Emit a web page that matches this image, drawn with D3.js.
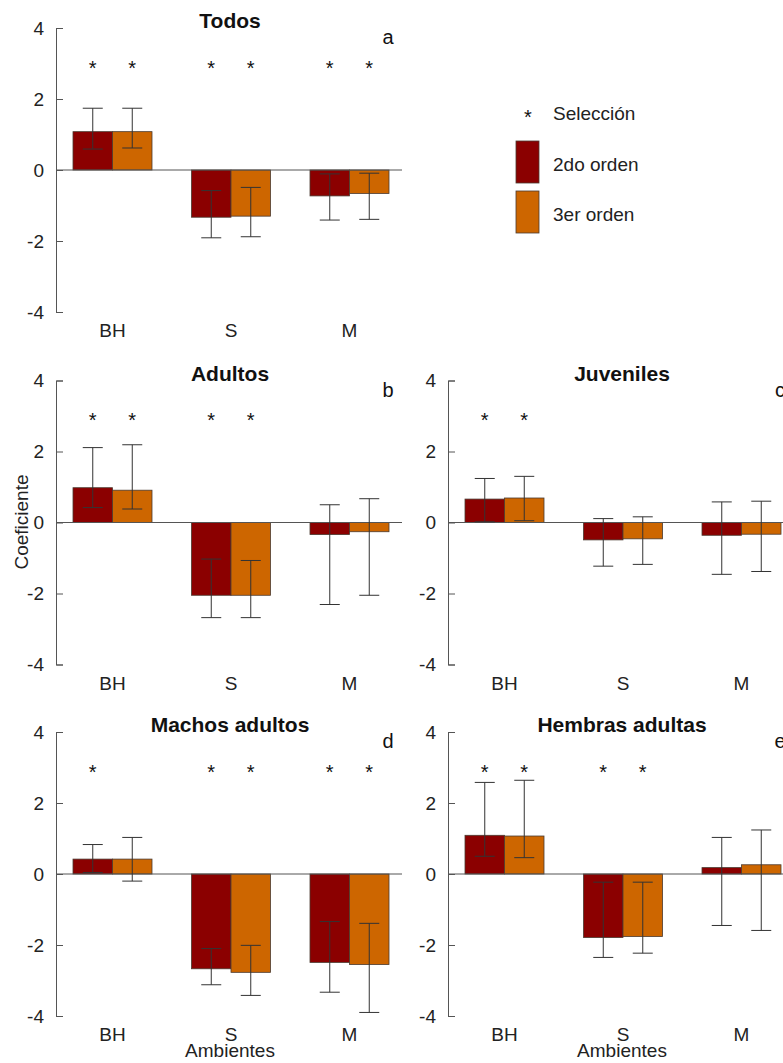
<!DOCTYPE html>
<html>
<head>
<meta charset="utf-8">
<script src="https://cdn.jsdelivr.net/npm/d3@7"></script>
<style>
  html, body { margin: 0; padding: 0; background: #fff; }
  svg { display: block; font-family: "Liberation Sans", Arial, sans-serif; }
</style>
</head>
<body>
<div id="chart"></div>
<script>
// categories / series
var categories = ['BH', 'S', 'M'];
var series = ['2do orden', '3er orden'];
var yTicks = [-4, -2, 0, 2, 4];

// one entry per panel, order within a panel: BH 2do, BH 3er, S 2do, S 3er, M 2do, M 3er
var panelTitles = ['Todos', 'Adultos', 'Juveniles', 'Machos adultos', 'Hembras adultas'];
var panelLetters = ['a', 'b', 'c', 'd', 'e'];

var coefA = [1.08, 1.08, -1.33, -1.30, -0.73, -0.66];
var lowA  = [0.59, 0.62, -1.91, -1.88, -1.41, -1.39];
var highA = [1.74, 1.74, -0.58, -0.49, -0.11, -0.09];
var sigA  = [1, 1, 1, 1, 1, 1];

var coefB = [0.98, 0.91, -2.05, -2.05, -0.34, -0.26];
var lowB  = [0.42, 0.38, -2.68, -2.68, -2.31, -2.05];
var highB = [2.11, 2.19, -1.03, -1.07, 0.50, 0.67];
var sigB  = [1, 1, 1, 1, 0, 0];

var coefC = [0.66, 0.69, -0.49, -0.46, -0.36, -0.33];
var lowC  = [0.02, 0.05, -1.23, -1.18, -1.46, -1.38];
var highC = [1.24, 1.30, 0.11, 0.16, 0.58, 0.60];
var sigC  = [1, 1, 0, 0, 0, 0];

var coefD = [0.42, 0.42, -2.67, -2.77, -2.49, -2.55];
var lowD  = [0.04, -0.20, -3.12, -3.42, -3.33, -3.90];
var highD = [0.83, 1.03, -2.10, -2.01, -1.34, -1.39];
var sigD  = [1, 0, 1, 1, 1, 1];

var coefE = [1.09, 1.07, -1.79, -1.76, 0.18, 0.26];
var lowE  = [0.50, 0.46, -2.35, -2.23, -1.45, -1.59];
var highE = [2.58, 2.64, -0.23, -0.23, 1.03, 1.24];
var sigE  = [1, 1, 1, 1, 0, 0];

var coefs = [coefA, coefB, coefC, coefD, coefE];
var lows = [lowA, lowB, lowC, lowD, lowE];
var highs = [highA, highB, highC, highD, highE];
var sigs = [sigA, sigB, sigC, sigD, sigE];

var colors = ['#8B0000', '#CD6600'];

var W = 783, H = 1063;
var svg = d3.select('#chart').append('svg')
    .attr('width', W)
    .attr('height', H);

// panel placement: left x of y axis, y of zero
var layout = [
    {x: 56, y0: 170},
    {x: 56, y0: 522.5},
    {x: 448, y0: 522.5},
    {x: 56, y0: 874},
    {x: 448, y0: 874}
];
var plotW = 346;
var unit = 35.5;

function drawPanel(p) {
    var L = layout[p];
    var g = svg.append('g')
        .attr('transform', 'translate(' + L.x + ',0)');

    var y = d3.scaleLinear().domain([-4, 4]).range([L.y0 + 4 * unit, L.y0 - 4 * unit]);
    var x0 = d3.scaleBand().domain(categories).range([17, 333]).paddingInner(1 / 3).paddingOuter(0);
    var x1 = d3.scaleBand().domain(series).range([0, x0.bandwidth()]).padding(0);

    var rows = [];
    categories.forEach(function (c, ci) {
        series.forEach(function (s, si) {
            var k = ci * 2 + si;
            rows.push({cat: c, ser: s, si: si, v: coefs[p][k], lo: lows[p][k], hi: highs[p][k], sig: sigs[p][k]});
        });
    });

    // bars
    g.selectAll('rect.bar')
        .data(rows)
        .enter()
        .append('rect')
        .attr('class', 'bar')
        .attr('x', function (d) { return x0(d.cat) + x1(d.ser); })
        .attr('y', function (d) { return y(Math.max(0, d.v)); })
        .attr('width', x1.bandwidth())
        .attr('height', function (d) { return Math.abs(y(d.v) - y(0)); })
        .attr('fill', function (d) { return colors[d.si]; })
        .attr('stroke', '#4a3a30')
        .attr('stroke-width', 0.8);

    // zero line
    g.append('line')
        .attr('x1', 0).attr('x2', plotW)
        .attr('y1', y(0)).attr('y2', y(0))
        .attr('stroke', '#555')
        .attr('stroke-width', 1);

    // error bars
    var eb = g.selectAll('g.eb')
        .data(rows)
        .enter()
        .append('g')
        .attr('class', 'eb')
        .attr('stroke', '#333')
        .attr('stroke-width', 1);
    var cx = function (d) { return x0(d.cat) + x1(d.ser) + x1.bandwidth() / 2; };
    eb.append('line')
        .attr('x1', cx).attr('x2', cx)
        .attr('y1', function (d) { return y(d.lo); })
        .attr('y2', function (d) { return y(d.hi); });
    eb.append('line')
        .attr('x1', function (d) { return cx(d) - 10; })
        .attr('x2', function (d) { return cx(d) + 10; })
        .attr('y1', function (d) { return y(d.hi); })
        .attr('y2', function (d) { return y(d.hi); });
    eb.append('line')
        .attr('x1', function (d) { return cx(d) - 10; })
        .attr('x2', function (d) { return cx(d) + 10; })
        .attr('y1', function (d) { return y(d.lo); })
        .attr('y2', function (d) { return y(d.lo); });

    // significance stars
    g.selectAll('text.star')
        .data(rows.filter(function (d) { return d.sig; }))
        .enter()
        .append('text')
        .attr('class', 'star')
        .attr('x', cx)
        .attr('y', y(3) + 11)
        .attr('text-anchor', 'middle')
        .style('font-size', '20px')
        .attr('fill', '#111')
        .text('*');

    // y axis
    var ax = g.append('g')
        .call(d3.axisLeft(y).tickValues(yTicks).tickSize(-7).tickPadding(12)
            .tickFormat(function (d) { return String(d); }));
    ax.select('.domain').attr('stroke', '#555');
    ax.selectAll('.tick line').attr('stroke', '#555');
    ax.selectAll('.tick text')
        .style('font-size', '19px')
        .style('font-family', '"Liberation Sans", Arial, sans-serif')
        .attr('fill', '#222');

    // category labels
    g.selectAll('text.cat')
        .data(categories)
        .enter()
        .append('text')
        .attr('class', 'cat')
        .attr('x', function (d) { return x0(d) + x0.bandwidth() / 2; })
        .attr('y', y(-4) + 25)
        .attr('text-anchor', 'middle')
        .style('font-size', '19px')
        .attr('fill', '#222')
        .text(function (d) { return d; });

    // title + letter
    g.append('text')
        .attr('x', 174)
        .attr('y', y(4))
        .attr('text-anchor', 'middle')
        .style('font-size', '21px')
        .style('font-weight', 'bold')
        .attr('fill', '#111')
        .text(panelTitles[p]);
    g.append('text')
        .attr('x', 332)
        .attr('y', y(4) + 16)
        .attr('text-anchor', 'middle')
        .style('font-size', '20px')
        .attr('fill', '#111')
        .text(panelLetters[p]);

    if (p >= 3) {
        g.append('text')
            .attr('x', 174)
            .attr('y', y(-4) + 41)
            .attr('text-anchor', 'middle')
            .style('font-size', '19px')
            .attr('fill', '#222')
            .text('Ambientes');
    }
}

for (var p = 0; p < 5; p++) drawPanel(p);

// y label
svg.append('text')
    .attr('transform', 'translate(28,522) rotate(-90)')
    .attr('text-anchor', 'middle')
    .style('font-size', '19px')
    .attr('fill', '#222')
    .text('Coeficiente');

// legend
var leg = svg.append('g');
leg.append('text')
    .attr('x', 528).attr('y', 124)
    .attr('text-anchor', 'middle')
    .style('font-size', '20px')
    .attr('fill', '#111')
    .text('*');
leg.append('text')
    .attr('x', 553).attr('y', 120)
    .style('font-size', '19px')
    .attr('fill', '#222')
    .text('Selección');
leg.selectAll('rect')
    .data(series)
    .enter()
    .append('rect')
    .attr('x', 516)
    .attr('y', function (d, i) { return 141 + i * 50; })
    .attr('width', 23)
    .attr('height', 42)
    .attr('fill', function (d, i) { return colors[i]; })
    .attr('stroke', '#4a3a30')
    .attr('stroke-width', 0.8);
leg.selectAll('text.lt')
    .data(series)
    .enter()
    .append('text')
    .attr('class', 'lt')
    .attr('x', 553)
    .attr('y', function (d, i) { return 171 + i * 50; })
    .style('font-size', '19px')
    .attr('fill', '#222')
    .text(function (d) { return d; });
</script>
</body>
</html>
